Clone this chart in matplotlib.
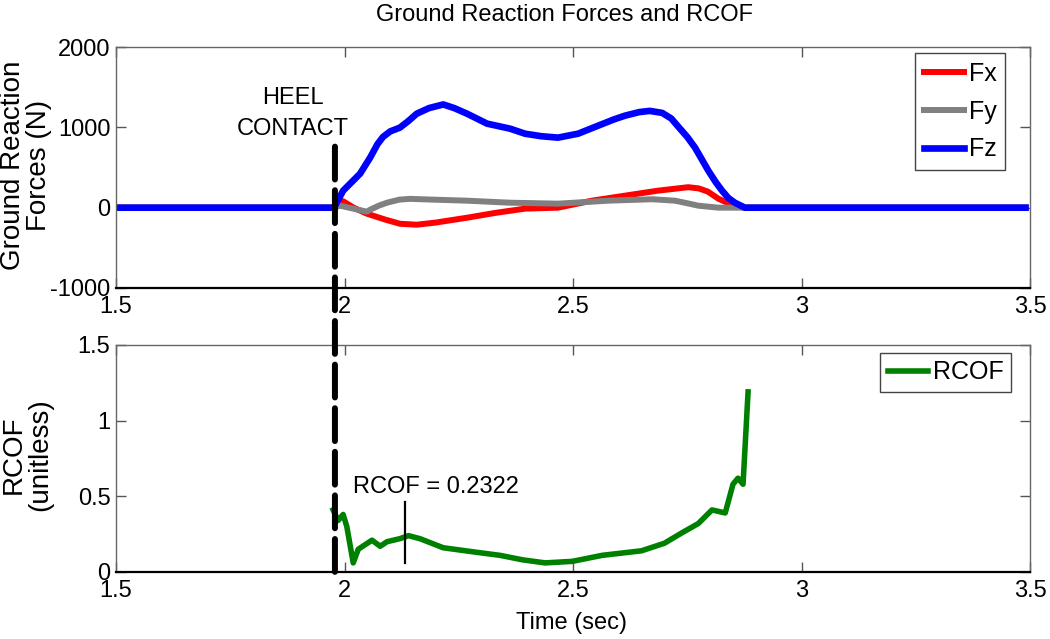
import matplotlib.pyplot as plt
from matplotlib.patches import ConnectionPatch

plt.rcParams["font.family"] = ["Liberation Sans", "DejaVu Sans"]
plt.rcParams["axes.unicode_minus"] = False

# ground reaction forces (N)
fz_t = [1.5, 1.977, 1.997, 2.034, 2.056, 2.072, 2.084, 2.100, 2.121, 2.140, 2.158,
        2.185, 2.216, 2.240, 2.268, 2.312, 2.362, 2.395, 2.430, 2.467, 2.511, 2.555,
        2.590, 2.614, 2.645, 2.668, 2.695, 2.715, 2.730, 2.750, 2.767, 2.796, 2.812,
        2.826, 2.840, 2.854, 2.876, 3.49]
fz = [0, 0, 212, 423, 623, 790, 880, 950, 996, 1080, 1170,
      1240, 1285, 1240, 1170, 1046, 984, 921, 890, 872, 921, 1021,
      1100, 1146, 1190, 1205, 1180, 1110, 1010, 880, 747, 461, 320,
      212, 120, 62, 0, 0]

fx_t = [1.5, 1.977, 1.997, 2.020, 2.049, 2.090, 2.121, 2.158, 2.200, 2.268, 2.330,
        2.395, 2.467, 2.541, 2.614, 2.686, 2.752, 2.775, 2.795, 2.818, 2.838, 2.854,
        2.876, 3.49]
fx = [0, 0, 80, 0, -75, -150, -200, -212, -185, -125, -65,
      -12, 0, 87, 150, 212, 255, 240, 200, 112, 60, 25,
      0, 0]

fy_t = [1.5, 1.977, 1.99, 2.019, 2.049, 2.056, 2.075, 2.093, 2.120, 2.143, 2.194,
        2.268, 2.362, 2.467, 2.577, 2.673, 2.723, 2.750, 2.774, 2.818, 2.876, 3.49]
fy = [0, 0, 25, -12, -50, -25, 25, 62, 100, 110, 100,
      87, 62, 50, 87, 105, 87, 55, 25, 0, 0, 0]

# required coefficient of friction
rcof_t = [1.975, 1.986, 1.997, 2.005, 2.019, 2.030, 2.060, 2.078, 2.093, 2.121,
          2.140, 2.165, 2.216, 2.289, 2.340, 2.390, 2.439, 2.498, 2.564, 2.650,
          2.700, 2.739, 2.774, 2.804, 2.833, 2.850, 2.861, 2.872, 2.883]
rcof = [0.41, 0.34, 0.38, 0.30, 0.06, 0.15, 0.21, 0.17, 0.20, 0.22,
        0.24, 0.22, 0.16, 0.13, 0.11, 0.08, 0.06, 0.07, 0.11, 0.14,
        0.19, 0.26, 0.32, 0.41, 0.39, 0.58, 0.62, 0.58, 1.19]

heel_t = 1.979
peak_t = 2.132
peak_rcof = 0.2322

x_ticks = [1.5, 2, 2.5, 3, 3.5]
x_labels = ["1.5", "2", "2.5", "3", "3.5"]
force_ticks = [-1000, 0, 1000, 2000]
rcof_ticks = [0, 0.5, 1, 1.5]
rcof_labels = ["0", "0.5", "1", "1.5"]

FS = 17
fig = plt.figure(figsize=(10.5, 6.39), dpi=100, facecolor="white")
ax1 = fig.add_axes([0.1105, 0.5493, 0.8705, 0.3771])
ax2 = fig.add_axes([0.1105, 0.1049, 0.8705, 0.3552])


def style(ax):
    ax.set_xlim(1.5, 3.5)
    ax.set_xticks(x_ticks)
    ax.set_xticklabels(x_labels)
    ax.tick_params(direction="in", length=7, width=1, color="#555555",
                   top=True, right=True, labelsize=FS, pad=4)
    ax.tick_params(axis="x", pad=6)
    for side in ("left", "top", "right"):
        ax.spines[side].set_color("#666666")
        ax.spines[side].set_linewidth(1)
    ax.spines["bottom"].set_color("black")
    ax.spines["bottom"].set_linewidth(1.6)


ax1.plot(fx_t, fx, color="#ff0000", lw=4.3, label="Fx")
ax1.plot(fy_t, fy, color="#808080", lw=4.3, label="Fy")
ax1.plot(fz_t, fz, color="#0000ff", lw=4.8, label="Fz")
ax1.set_ylim(-1000, 2000)
ax1.set_yticks(force_ticks)
style(ax1)
ax1.text(1.887, 1170, "HEEL\nCONTACT", fontsize=FS, ha="center", va="center",
         linespacing=1.5)
leg1 = ax1.legend(loc="upper right", bbox_to_anchor=(0.9726, 0.975), borderaxespad=0,
                  fontsize=FS + 1, handlelength=1.6, handletextpad=0.2,
                  labelspacing=0.55, borderpad=0.35, fancybox=False, framealpha=1)
leg1.get_frame().set_edgecolor("#444444")
leg1.get_frame().set_linewidth(1)

ax2.plot(rcof_t, rcof, color="#008000", lw=4, label="RCOF")
ax2.plot([peak_t, peak_t], [peak_rcof - 0.17, peak_rcof + 0.23], color="black", lw=1.6)
ax2.text(2.019, 0.52, f"RCOF = {peak_rcof:.4f}", fontsize=FS, ha="left", va="baseline")
ax2.set_ylim(0, 1.5)
ax2.set_yticks(rcof_ticks)
ax2.set_yticklabels(rcof_labels)
style(ax2)
leg2 = ax2.legend(loc="upper right", bbox_to_anchor=(0.979, 0.965), borderaxespad=0,
                  fontsize=FS + 1, handlelength=1.6, handletextpad=0.2,
                  borderpad=0.3, fancybox=False, framealpha=1)
leg2.get_frame().set_edgecolor("#444444")
leg2.get_frame().set_linewidth(1)

# heel contact marker spanning both panels
heel = ConnectionPatch(xyA=(heel_t, 760), coordsA=ax1.transData,
                       xyB=(heel_t, 0), coordsB=ax2.transData,
                       color="black", lw=4.3, linestyle=(0, (5.5, 1.8)), zorder=5)
fig.add_artist(heel)

fig.text(564 / 1050, 1 - 15 / 639, "Ground Reaction Forces and RCOF", fontsize=FS,
         ha="center", va="center")
fig.text(26 / 1050, 1 - 165 / 639, "Ground Reaction\nForces (N)", fontsize=FS + 3,
         rotation=90, ha="center", va="center", linespacing=1.0)
fig.text(27 / 1050, 1 - 455 / 639, "RCOF\n(unitless)", fontsize=FS + 3,
         rotation=90, ha="center", va="center", linespacing=1.0)
fig.text(571 / 1050, 1 - 623 / 639, "Time (sec)", fontsize=FS, ha="center", va="center")

fig.savefig("out.png", dpi=100, facecolor="white")
